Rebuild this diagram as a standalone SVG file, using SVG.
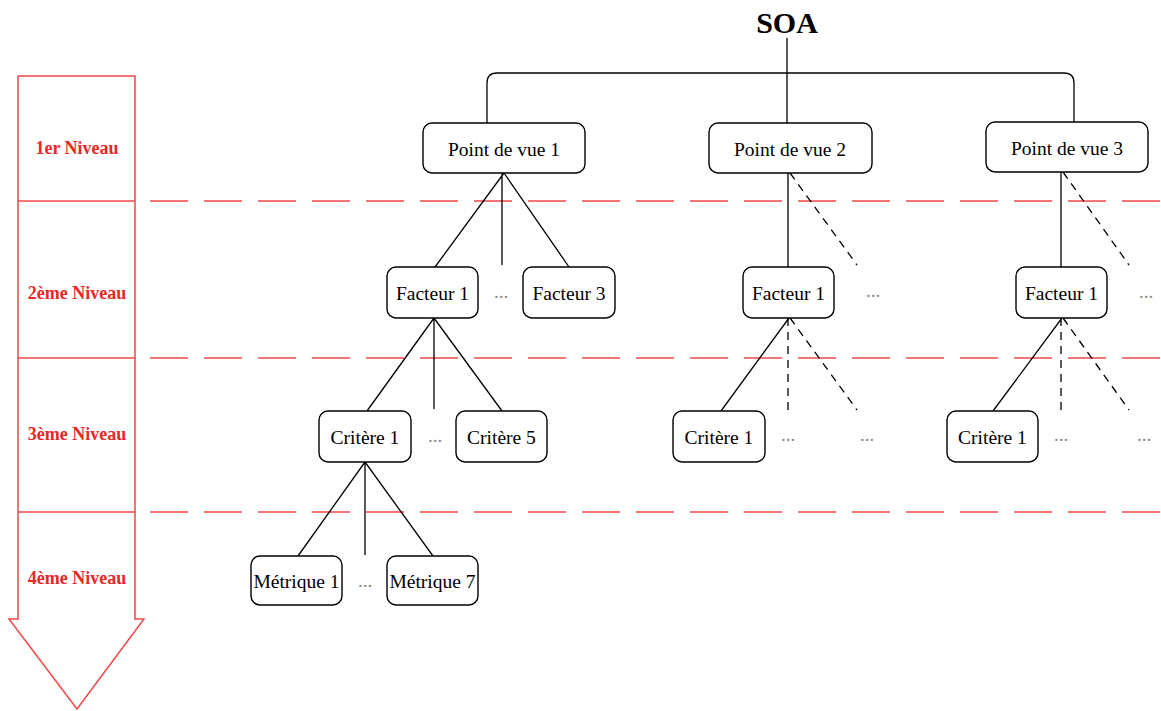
<svg xmlns="http://www.w3.org/2000/svg" width="1161" height="711" viewBox="0 0 1161 711">
<style>
.node rect{fill:#fff;stroke:#000;stroke-width:1.4}
.node text{font-family:"Liberation Serif",serif;font-size:19.5px;fill:#000;text-anchor:middle}
.lvl{font-family:"Liberation Serif",serif;font-size:18px;font-weight:bold;fill:#e82828;text-anchor:middle}
.sep{stroke:#f04848;stroke-width:1.5;fill:none}
.dash{stroke:#f04848;stroke-width:1.5;stroke-dasharray:38 16;fill:none}
.c{stroke:#000;stroke-width:1.3;fill:none}
.cd{stroke:#000;stroke-width:1.3;fill:none;stroke-dasharray:8 6}
.dots{font-family:"Liberation Serif",serif;font-size:19px;fill:#888;text-anchor:middle}
</style>
<rect width="1161" height="711" fill="#fff"/>
<g id="level-arrow">
<path class="sep" d="M18,76 H135 V619 H144 L77,709 L9,619 H18 Z"/>
<line class="sep" x1="18" y1="201" x2="135" y2="201"/>
<line class="sep" x1="18" y1="358" x2="135" y2="358"/>
<line class="sep" x1="18" y1="512" x2="135" y2="512"/>
<line class="dash" x1="150" y1="201" x2="1161" y2="201"/>
<line class="dash" x1="150" y1="358" x2="1161" y2="358"/>
<line class="dash" x1="150" y1="512" x2="1161" y2="512"/>
<text class="lvl" x="77" y="154">1er Niveau</text>
<text class="lvl" x="77" y="299">2ème Niveau</text>
<text class="lvl" x="77" y="440">3ème Niveau</text>
<text class="lvl" x="77" y="584">4ème Niveau</text>
</g>
<g id="connectors">
<path class="c" d="M787,38 V123"/>
<path class="c" d="M487,123 V83 Q487,73 497,73 H1064 Q1074,73 1074,83 V122"/>
<path class="c" d="M504,173 L435,267 M502,173 V265 M504,173 L569,267"/>
<path class="c" d="M788,173 V267"/>
<path class="cd" d="M790,173 L857,265"/>
<path class="c" d="M1061,172 V267"/>
<path class="cd" d="M1063,172 L1129,265"/>
<path class="c" d="M434,318 L367,411 M434,318 V409 M434,318 L502,411"/>
<path class="c" d="M789,318 L721,411"/>
<path class="cd" d="M788,318 V410 M790,318 L857,410"/>
<path class="c" d="M1062,318 L993,411"/>
<path class="cd" d="M1061,318 V410 M1063,318 L1129,410"/>
<path class="c" d="M365,462 L298,556 M365,462 V555 M365,462 L433,556"/>
</g>
<g id="soa"><text x="787" y="33" font-family="Liberation Serif,serif" font-size="30" font-weight="bold" text-anchor="middle">SOA</text></g>
<g id="pdv1" class="node"><rect x="423" y="123" width="162" height="50" rx="9"/><text x="504" y="156">Point de vue 1</text></g>
<g id="pdv2" class="node"><rect x="709" y="123" width="163" height="50" rx="9"/><text x="790" y="156">Point de vue 2</text></g>
<g id="pdv3" class="node"><rect x="986" y="122" width="162" height="50" rx="9"/><text x="1067" y="155">Point de vue 3</text></g>
<g id="f1a" class="node"><rect x="387" y="267" width="91" height="51" rx="9"/><text x="432.5" y="300">Facteur 1</text></g>
<g id="f3a" class="node"><rect x="523" y="267" width="92" height="51" rx="9"/><text x="569" y="300">Facteur 3</text></g>
<g id="f1b" class="node"><rect x="743" y="267" width="91" height="51" rx="9"/><text x="788.5" y="300">Facteur 1</text></g>
<g id="f1c" class="node"><rect x="1016" y="267" width="91" height="51" rx="9"/><text x="1061.5" y="300">Facteur 1</text></g>
<g id="c1a" class="node"><rect x="319" y="411" width="92" height="51" rx="9"/><text x="365" y="444">Critère 1</text></g>
<g id="c5a" class="node"><rect x="456" y="411" width="91" height="51" rx="9"/><text x="501.5" y="444">Critère 5</text></g>
<g id="c1b" class="node"><rect x="673" y="411" width="92" height="51" rx="9"/><text x="719" y="444">Critère 1</text></g>
<g id="c1c" class="node"><rect x="947" y="411" width="91" height="51" rx="9"/><text x="992.5" y="444">Critère 1</text></g>
<g id="m1" class="node"><rect x="251" y="556" width="91" height="49" rx="9"/><text x="296.5" y="588">Métrique 1</text></g>
<g id="m7" class="node"><rect x="387" y="556" width="91" height="49" rx="9"/><text x="432.5" y="588">Métrique 7</text></g>
<g id="ellipses">
<text class="dots" x="501" y="298">...</text>
<text class="dots" x="873" y="297">...</text>
<text class="dots" x="1146" y="298">...</text>
<text class="dots" x="435" y="442">...</text>
<text class="dots" x="788" y="441">...</text>
<text class="dots" x="867" y="441">...</text>
<text class="dots" x="1061" y="441">...</text>
<text class="dots" x="1144" y="441">...</text>
<text class="dots" x="365" y="587">...</text>
</g>
</svg>
